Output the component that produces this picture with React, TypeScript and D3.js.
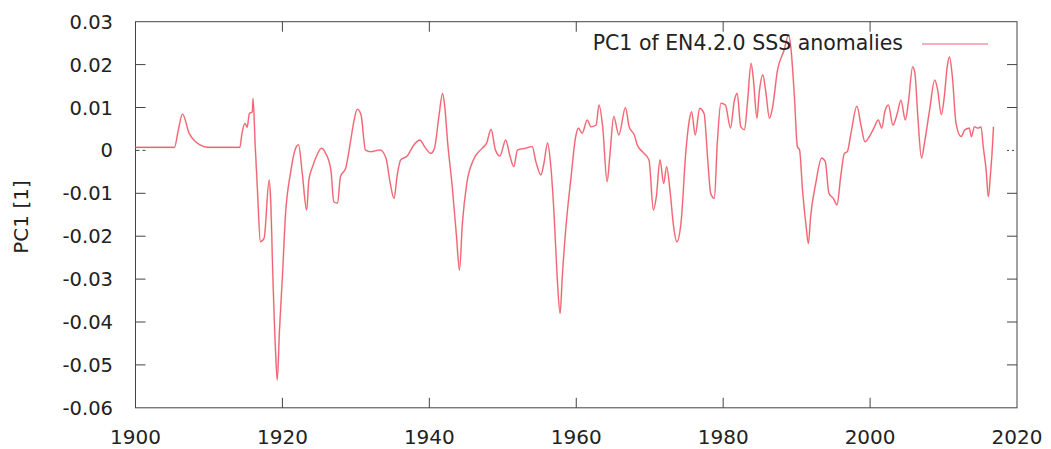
import React, { useEffect } from 'react';
import * as d3 from 'd3';

// PC1, in units of 1e-3
const years = [
  1900.0, 1905.3, 1905.8, 1906.4, 1907.3, 1908.2, 1909.3, 1910.0, 1914.2, 1914.5,
  1914.9, 1915.2, 1915.5, 1915.9, 1916.0, 1916.3, 1916.6, 1917.0, 1917.5, 1918.2,
  1918.4, 1918.7, 1919.1, 1919.3, 1919.6, 1920.0, 1920.4, 1921.1, 1921.8, 1922.2,
  1922.7, 1923.3, 1923.6, 1924.1, 1924.7, 1925.3, 1925.9, 1926.6, 1927.0, 1927.5,
  1927.9, 1928.6, 1929.3, 1929.7, 1930.2, 1930.7, 1931.3, 1932.0, 1933.3, 1934.1,
  1934.6, 1935.2, 1935.6, 1936.1, 1937.0, 1937.9, 1938.7, 1939.5, 1940.2, 1940.7,
  1941.3, 1941.8, 1942.1, 1942.5, 1943.1, 1943.7, 1944.1, 1944.5, 1945.1, 1946.0,
  1947.2, 1947.8, 1948.4, 1949.0, 1949.6, 1950.4, 1951.0, 1951.5, 1952.0, 1953.1,
  1954.0, 1954.5, 1955.2, 1955.6, 1956.1, 1956.5, 1957.0, 1957.4, 1957.8, 1958.1,
  1958.6, 1959.3, 1959.9, 1960.3, 1960.8, 1961.5, 1962.0, 1962.7, 1963.1, 1963.6,
  1964.2, 1964.6, 1965.1, 1965.8, 1966.7, 1967.2, 1967.9, 1968.3, 1969.0, 1969.9,
  1970.5, 1970.9, 1971.4, 1971.9, 1972.3, 1972.8, 1973.2, 1973.7, 1974.3, 1974.9,
  1975.4, 1975.7, 1976.2, 1976.8, 1977.4, 1977.9, 1978.3, 1978.8, 1979.2, 1979.7,
  1980.3, 1981.0, 1981.5, 1981.9, 1982.4, 1982.9, 1983.3, 1983.8, 1984.1, 1984.6,
  1984.9, 1985.4, 1985.8, 1986.3, 1986.7, 1987.4, 1988.3, 1988.9, 1989.2, 1989.7,
  1990.1, 1990.4, 1990.8, 1991.3, 1991.6, 1991.9, 1992.6, 1993.4, 1993.9, 1994.4,
  1995.0, 1995.5, 1996.0, 1996.5, 1996.9, 1997.4, 1998.2, 1998.8, 1999.3, 1999.9,
  2000.6, 2001.1, 2001.6, 2002.0, 2002.5, 2003.1, 2003.7, 2004.2, 2004.8, 2005.2,
  2005.8, 2006.1, 2006.5, 2007.0, 2007.4, 2008.1, 2008.8, 2009.2, 2009.7, 2010.1,
  2010.5, 2010.8, 2011.2, 2011.7, 2012.4, 2012.9, 2013.5, 2013.8, 2014.2, 2014.7,
  2015.1, 2015.4, 2015.8, 2016.1, 2016.4, 2016.6, 2016.8,
];

const pc1Milli = [
  0.7, 0.7, 4.5, 8.5, 4.0, 2.0, 0.9, 0.7, 0.7, 4.0,
  6.3, 5.4, 8.6, 9.0, 12.1, 0.9, -9.2, -21.3, -20.5, -6.9,
  -11.6, -29.4, -48.1, -53.5, -41.9, -29.4, -15.5, -5.3, 0.5, 1.3,
  -5.3, -13.9, -6.9, -3.8, -1.1, 0.5, -0.7, -4.6, -12.0, -12.3,
  -6.1, -4.2, 2.4, 6.5, 9.6, 8.3, 0.1, -0.3, 0.1, -1.8,
  -6.9, -11.2, -6.1, -2.2, -1.3, 1.3, 2.4, 0.5, -0.7, 0.5,
  7.9, 13.3, 10.2, 1.7, -8.1, -20.1, -27.9, -17.0, -7.7, -2.2,
  0.5, 1.7, 4.9, 0.1, -1.3, 2.4, -1.5, -3.8, 0.1, 0.5,
  0.9, -2.6, -5.7, -3.0, 1.7, -3.0, -15.5, -29.4, -38.0, -29.4,
  -17.8, -6.1, 3.0, 5.2, 4.0, 7.1, 5.5, 5.9, 10.6, 5.5,
  -7.3, -0.7, 7.9, 3.6, 10.0, 5.5, 3.6, 1.3, -0.3, -2.2,
  -13.9, -10.8, -2.2, -7.7, -3.8, -10.0, -17.0, -21.3, -16.2, -0.7,
  7.1, 9.0, 3.6, 9.8, 8.6, -2.2, -10.0, -11.2, 1.7, 11.0,
  10.6, 5.2, 11.4, 13.3, 5.5, 4.8, 11.0, 20.3, 16.8, 7.5,
  13.3, 17.6, 13.7, 7.5, 9.8, 18.7, 23.4, 26.9, 24.2, 12.5,
  0.9, 0.1, -9.2, -17.8, -21.7, -15.5, -7.7, -1.8, -2.6, -10.0,
  -11.2, -12.7, -6.1, -0.7, -0.3, 4.0, 10.3, 5.5, 2.0, 3.2,
  5.5, 7.1, 5.2, 9.0, 10.6, 5.9, 8.6, 11.7, 7.1, 11.0,
  19.5, 18.0, 7.9, -1.8, 1.7, 9.4, 16.4, 14.1, 8.3, 12.5,
  19.5, 21.8, 17.2, 6.3, 3.2, 4.8, 5.2, 3.2, 5.5, 5.2,
  5.5, 0.9, -4.6, -10.8, -5.3, -0.7, 5.5,
];

const xTicks = [1900, 1920, 1940, 1960, 1980, 2000, 2020];
const yTicks = [-0.06, -0.05, -0.04, -0.03, -0.02, -0.01, 0, 0.01, 0.02, 0.03];

const W = 1051;
const H = 449;
const left = 135.5, right = 1017, top = 21.7, bottom = 407.8;
const font = '"DejaVu Sans", sans-serif';

export default function App() {
  useEffect(() => {
    document.body.style.margin = '0';
  }, []);

  const x = d3.scaleLinear().domain([1900, 2020]).range([left, right]);
  const y = d3.scaleLinear().domain([-0.06, 0.03]).range([bottom, top]);

  const data = years.map((yr, i) => ({ yr, v: pc1Milli[i] / 1000 }));
  const line = d3.line<{ yr: number; v: number }>()
    .x(d => x(d.yr))
    .y(d => y(d.v))
    .curve(d3.curveMonotoneX);
  const path = line(data) || '';

  const fmt = (v: number) => (v === 0 ? '0' : d3.format('.2f')(v).replace('−', '-'));

  return (
    <svg width={W} height={H} style={{ display: 'block', background: '#fff' }}>
      {/* frame */}
      <rect x={left} y={top} width={right - left} height={bottom - top}
        fill="none" stroke="#444" strokeWidth={1} />

      {/* y ticks, mirrored on right */}
      {yTicks.map(t => {
        const yy = y(t);
        const dash = t === 0 ? '4,3' : undefined;
        return (
          <g key={'y' + t}>
            {t !== -0.06 && t !== 0.03 && (
              <>
                <line x1={left} x2={left + 10} y1={yy} y2={yy} stroke="#444" strokeDasharray={dash} />
                <line x1={right - 10} x2={right} y1={yy} y2={yy} stroke="#444" strokeDasharray={t === 0 ? '2,3' : undefined} />
              </>
            )}
            <text x={113} y={yy + 7} textAnchor="end" fontFamily={font} fontSize={19.5} fill="#222">
              {fmt(t)}
            </text>
          </g>
        );
      })}

      {/* x ticks, mirrored on top */}
      {xTicks.map(t => {
        const xx = x(t);
        return (
          <g key={'x' + t}>
            {t !== 1900 && t !== 2020 && (
              <>
                <line x1={xx} x2={xx} y1={bottom} y2={bottom - 10} stroke="#444" />
                <line x1={xx} x2={xx} y1={top} y2={top + 10} stroke="#444" />
              </>
            )}
            <text x={xx} y={444} textAnchor="middle" fontFamily={font} fontSize={20} fill="#222">
              {t}
            </text>
          </g>
        );
      })}

      {/* axis title */}
      <text transform="translate(28,217) rotate(-90)" textAnchor="middle"
        fontFamily={font} fontSize={20} fill="#222">
        PC1 [1]
      </text>

      {/* series */}
      <path d={path} fill="none" stroke="#eb8a45" strokeWidth={1.8} strokeOpacity={0.45} strokeLinejoin="round" />
      <path d={path} fill="none" stroke="#f25c82" strokeWidth={1.1} strokeLinejoin="round" />

      {/* legend */}
      <text x={903} y={50} textAnchor="end" fontFamily={font} fontSize={20.5} fill="#222">
        PC1 of EN4.2.0 SSS anomalies
      </text>
      <line x1={922} x2={988} y1={44} y2={44} stroke="#f25c82" strokeWidth={1.1} />
    </svg>
  );
}
